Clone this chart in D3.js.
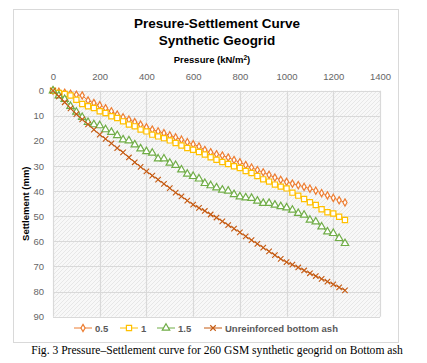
<!DOCTYPE html>
<html lang="en">
<head>
<meta charset="UTF-8">
<title>Presure-Settlement Curve</title>
<script src="https://d3js.org/d3.v7.min.js"></script>
<style>
  body { margin: 0; background: #fff; }
  text { font-family: "Liberation Sans", Arial, sans-serif; }
</style>
</head>
<body>
<script>
// pressure steps (kN/m2), same for every series
var pressure = d3.range(0, 1251, 25);

var s05 = [0, 0.4, 0.8, 1.2, 1.6, 1.9, 3.9, 4.9, 5.8, 7.0, 8.2, 9.5, 10.6, 11.5, 12.5, 13.5, 14.6, 15.5, 16.2, 16.9,
  17.8, 18.6, 19.5, 20.5, 21.3, 22.2, 23.6, 24.5, 25.3, 25.8, 26.6, 27.6, 28.5, 29.6, 30.6, 31.6, 32.5, 33.5, 34.6, 35.5,
  36.3, 37.0, 37.6, 38.3, 39.0, 39.8, 40.8, 41.7, 42.7, 43.6, 44.5];
var s10 = [0, 0.9, 1.3, 1.9, 3.6, 5.3, 6.2, 6.9, 8.2, 8.9, 10.2, 10.9, 12.2, 13.5, 14.2, 15.5, 16.2, 17.5, 18.2, 18.9,
  19.8, 20.8, 21.8, 22.8, 23.5, 24.4, 25.4, 26.5, 27.5, 28.4, 29.2, 30.1, 30.8, 32.0, 32.8, 34.0, 35.3, 36.2, 37.4, 38.2,
  38.9, 40.6, 41.8, 43.1, 44.4, 45.5, 47.2, 48.4, 48.9, 50.2, 51.5];
var s15 = [0, 2.0, 3.4, 6.2, 8.5, 10.6, 12.6, 13.5, 13.9, 15.5, 16.5, 17.8, 19.5, 19.9, 21.5, 23.1, 24.2, 24.8, 27.1, 27.1,
  28.8, 29.7, 31.5, 33.2, 34.1, 35.1, 36.9, 37.8, 38.6, 39.5, 39.9, 41.3, 42.2, 42.6, 42.8, 43.9, 44.8, 44.8, 45.5, 46.1,
  46.6, 47.5, 48.8, 49.5, 51.5, 52.2, 54.2, 56.2, 56.8, 58.8, 60.8];
var sUnr = [0, 2.3, 4.6, 7.0, 9.3, 11.4, 13.4, 15.5, 17.5, 19.2, 21.0, 22.9, 24.6, 26.6, 28.5, 30.3, 32.1, 33.8, 35.4, 37.1,
  38.8, 40.6, 42.1, 43.8, 45.4, 46.7, 47.9, 49.3, 50.5, 52.0, 53.5, 54.9, 56.4, 58.0, 59.5, 61.0, 62.5, 64.0, 65.5, 67.0,
  68.3, 69.3, 70.4, 71.6, 72.7, 73.8, 74.9, 76.0, 77.1, 78.3, 79.5];

var seriesNames = ["0.5", "1", "1.5", "Unreinforced bottom ash"];
var seriesValues = [s05, s10, s15, sUnr];
var colors = ["#ED7D31", "#FFC000", "#70AD47", "#C55A11"];

var xTicks = [0, 200, 400, 600, 800, 1000, 1200, 1400];
var yTicks = [0, 10, 20, 30, 40, 50, 60, 70, 80, 90];

// "x" marker drawn as two strokes
var xMark = { draw: function (ctx, size) {
  var r = Math.sqrt(size) / 2;
  ctx.moveTo(-r, -r); ctx.lineTo(r, r);
  ctx.moveTo(-r, r); ctx.lineTo(r, -r);
} };
var symbols = [
  d3.symbol().type(d3.symbolDiamond).size(15),
  d3.symbol().type(d3.symbolSquare).size(27),
  d3.symbol().type(d3.symbolTriangle).size(24),
  d3.symbol().type(xMark).size(30)
];

var W = 427, H = 363;
var svg = d3.select("body").append("svg").attr("width", W).attr("height", H);

// hatch for plot area
var defs = svg.append("defs");
var pat = defs.append("pattern").attr("id", "hatch").attr("patternUnits", "userSpaceOnUse")
  .attr("width", 4).attr("height", 4);
pat.append("rect").attr("width", 4).attr("height", 4).attr("fill", "#f8f8f8");
pat.append("path").attr("d", "M-1,1 l2,-2 M0,4 l4,-4 M3,5 l2,-2").attr("stroke", "#e2e2e2").attr("stroke-width", 0.8);

// chart border
svg.append("rect").attr("x", 13.5).attr("y", 9.5).attr("width", 385).attr("height", 333)
  .attr("fill", "#fff").attr("stroke", "#d9d9d9");

var x = d3.scaleLinear().domain([0, 1400]).range([53, 380]);
var y = d3.scaleLinear().domain([0, 90]).range([90.7, 316.7]);

svg.append("rect").attr("x", x(0)).attr("y", y(0))
  .attr("width", x(1400) - x(0)).attr("height", y(90) - y(0)).attr("fill", "url(#hatch)");

// gridlines
svg.append("g").selectAll("line").data(xTicks).join("line")
  .attr("x1", d => Math.round(x(d)) + 0.5).attr("x2", d => Math.round(x(d)) + 0.5)
  .attr("y1", y(0)).attr("y2", y(90)).attr("stroke", "#d9d9d9").attr("stroke-width", 1.2);
svg.append("g").selectAll("line").data(yTicks).join("line")
  .attr("y1", d => Math.round(y(d)) + 0.5).attr("y2", d => Math.round(y(d)) + 0.5)
  .attr("x1", x(0)).attr("x2", x(1400)).attr("stroke", "#d9d9d9").attr("stroke-width", 1.2);

// axes (labels only)
var xAxis = svg.append("g").attr("transform", "translate(0," + (y(0) - 8) + ")")
  .call(d3.axisTop(x).tickValues(xTicks).tickSize(0).tickFormat(d3.format("d")));
var yAxis = svg.append("g").attr("transform", "translate(" + (x(0) - 6) + ",0)")
  .call(d3.axisLeft(y).tickValues(yTicks).tickSize(0));
[xAxis, yAxis].forEach(function (g) {
  g.select(".domain").remove();
  g.selectAll("text").attr("fill", "#666").style("font-size", "9.5px")
    .style("font-family", "'Liberation Sans', Arial, sans-serif");
});
xAxis.selectAll("text").attr("dy", 0);

// series
var line = d3.line().x((d, i) => x(pressure[i])).y(d => y(d));
seriesValues.forEach(function (vals, k) {
  svg.append("path").datum(vals).attr("d", line).attr("fill", "none")
    .attr("stroke", colors[k]).attr("stroke-width", 1);
  svg.append("g").selectAll("path").data(vals).join("path")
    .attr("transform", (d, i) => "translate(" + x(pressure[i]) + "," + y(d) + ")")
    .attr("d", symbols[k])
    .attr("fill", k == 3 ? "none" : "#fff")
    .attr("stroke", colors[k])
    .attr("stroke-width", k == 3 ? 1.1 : 1.2);
});

// titles
svg.append("text").attr("x", 217).attr("y", 28).attr("text-anchor", "middle")
  .style("font-size", "13.5px").style("font-weight", "bold").attr("fill", "#000")
  .text("Presure-Settlement Curve");
svg.append("text").attr("x", 217).attr("y", 45).attr("text-anchor", "middle")
  .style("font-size", "13.5px").style("font-weight", "bold").attr("fill", "#000")
  .text("Synthetic Geogrid");
var pt = svg.append("text").attr("x", 212).attr("y", 63).attr("text-anchor", "middle")
  .style("font-size", "9.5px").style("font-weight", "bold").attr("fill", "#000");
pt.append("tspan").text("Pressure (kN/m");
pt.append("tspan").attr("dy", -3.5).style("font-size", "6.5px").text("2");
pt.append("tspan").attr("dy", 3.5).text(")");

svg.append("text").attr("transform", "translate(29," + y(45) + ") rotate(-90)")
  .attr("text-anchor", "middle").style("font-size", "9.5px").style("font-weight", "bold")
  .text("Settlement (mm)");

// legend
var legX = [74, 120, 157, 204];
var leg = svg.append("g");
seriesNames.forEach(function (name, k) {
  var g = leg.append("g").attr("transform", "translate(" + legX[k] + ",328)");
  g.append("line").attr("x1", 0).attr("x2", 18).attr("stroke", colors[k]).attr("stroke-width", 1);
  g.append("path").attr("transform", "translate(9,0)")
    .attr("d", symbols[k])
    .attr("fill", k == 3 ? "none" : "#fff").attr("stroke", colors[k]).attr("stroke-width", k == 3 ? 1.1 : 1.2);
  g.append("text").attr("x", 21).attr("y", 3.5).style("font-size", "9.5px").style("font-weight", "bold")
    .attr("fill", "#595959").text(name);
});

// caption
svg.append("text").attr("x", 217).attr("y", 354).attr("text-anchor", "middle")
  .style("font-family", "'Liberation Serif', 'Times New Roman', serif").style("font-size", "11.6px")
  .text("Fig. 3 Pressure\u2013Settlement curve for 260 GSM synthetic geogrid on Bottom ash");
</script>
</body>
</html>
